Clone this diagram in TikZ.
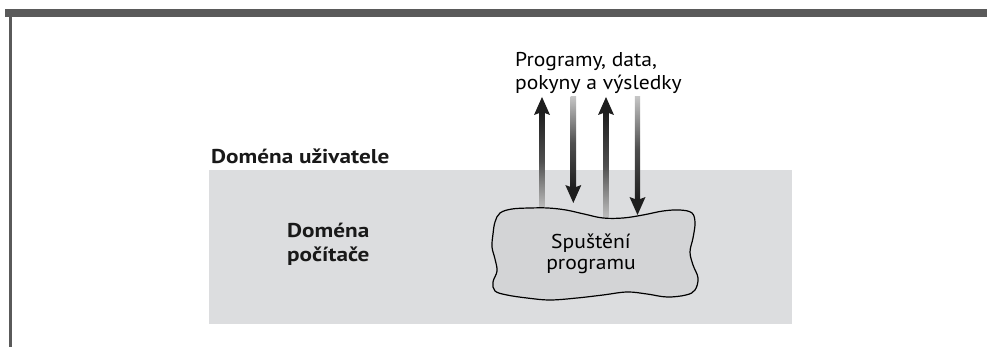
\documentclass[tikz,border=0pt]{standalone}
\usepackage{fontspec}
\setmainfont{PT Sans}[FakeStretch=1.08, BoldFeatures={FakeStretch=1.16}]
\usetikzlibrary{calc}
\definecolor{framegray}{HTML}{5A5A5A}
\definecolor{domaingray}{HTML}{DCDDDF}
\definecolor{cloudgray}{HTML}{D3D4D6}
\definecolor{headdark}{HTML}{1E1E1E}
\definecolor{taillight}{HTML}{C4C4C4}
\tikzset{
  lbl/.style={anchor=base west, inner sep=0pt, font=\fontsize{20}{23}\selectfont},
  boldlbl/.style={lbl, text=black!90, font=\fontsize{20}{23}\selectfont\bfseries},
  cloudline/.style={draw=black, line width=1.2pt, fill=cloudgray},
}
% vertical gradient arrow: #1 = x, #2 = tail y, #3 = tip y (y grows downwards)
\newcommand{\gradarrow}[3]{%
  \pgfmathsetmacro{\dir}{(#3<#2) ? -1 : 1}%
  \pgfmathsetmacro{\hb}{#3-\dir*18}%
  \pgfmathsetmacro{\hn}{#3-\dir*15}%
  \ifdim\dir pt<0pt
    \shade[top color=headdark, bottom color=taillight, middle color=headdark!70!taillight]
      (#1-2.7,\hn) rectangle (#1+2.7,#2);
  \else
    \shade[top color=taillight, bottom color=headdark, middle color=headdark!70!taillight]
      (#1-2.7,#2) rectangle (#1+2.7,\hn);
  \fi
  \fill[headdark] (#1,#3) -- (#1+8,\hb) -- (#1,\hn) -- (#1-8,\hb) -- cycle;
}
\begin{document}
\begin{tikzpicture}[x=1pt, y=-1pt]
  \useasboundingbox (0,0) rectangle (987,347);
  \fill[white] (0,0) rectangle (987,347);

  % frame: top bar and left rule
  \fill[framegray] (5,9) rectangle (987,17);
  \fill[framegray] (9,9) rectangle (12,347);

  % computer domain
  \fill[domaingray] (209,170) rectangle (792,324);
  \node[boldlbl] (user) at (211,163.5) {Doména uživatele};
  \node[boldlbl] (comp1) at (287,238) {Doména};
  \node[boldlbl] (comp2) at (287,261.5) {počítače};

  % data flow arrows
  \gradarrow{542}{211}{97}
  \gradarrow{573.3}{97}{203}
  \gradarrow{606}{220}{97}
  \gradarrow{637.5}{97}{215}

  % running program
  \path[cloudline] plot[smooth cycle, tension=0.6] coordinates {
    (500,213) (512,209) (530,208) (548,208) (566,210) (584,214) (603,218)
    (623,218) (643,215) (663,211) (680,210) (692,213)
    (695,223) (693,238) (690,252) (693,265) (698,278) (695,290)
    (686,295) (667,297) (647,294) (627,292) (603,295) (577,298) (550,300)
    (527,298) (507,295) (495,291)
    (493,282) (497,271) (495,259) (492,247) (493,234) (495,222)};
  \node[lbl, anchor=base] (run1) at (591,248) {Spuštění};
  \node[lbl, anchor=base] (run2) at (591,269.5) {programu};

  % arrow caption
  \node[lbl] (cap1) at (515,66.5) {Programy, data,};
  \node[lbl] (cap2) at (515,89.5) {pokyny a výsledky};
\end{tikzpicture}
\end{document}
